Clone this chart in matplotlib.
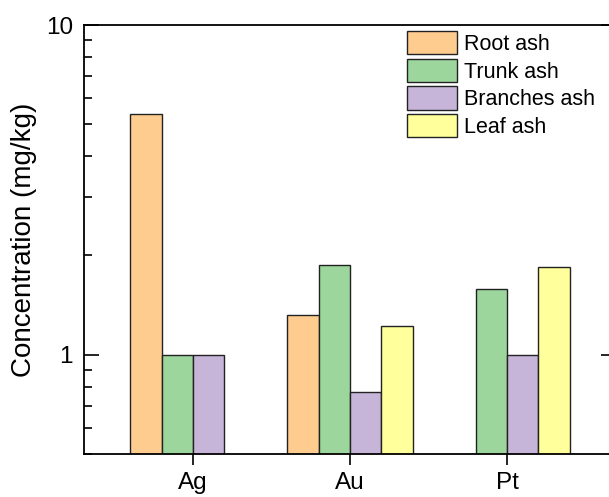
import numpy as np
import matplotlib.pyplot as plt
from matplotlib.ticker import LogLocator, NullFormatter, FixedFormatter, FixedLocator

plt.rcParams['font.family'] = ['Liberation Sans', 'DejaVu Sans']

elements = ['Ag', 'Au', 'Pt']
root_ash = [5.37, 1.32, np.nan]
trunk_ash = [1.0, 1.87, 1.585]
branches_ash = [1.0, 0.77, 1.0]
leaf_ash = [np.nan, 1.22, 1.85]

series = [
    ('Root ash', root_ash, '#FFCC90'),
    ('Trunk ash', trunk_ash, '#9DD69C'),
    ('Branches ash', branches_ash, '#C6B5D8'),
    ('Leaf ash', leaf_ash, '#FFFF9C'),
]

fig = plt.figure(figsize=(6.09, 4.97), dpi=100)
ax = fig.add_axes([84 / 609, 43 / 497, 532 / 609, 429 / 497])

x = np.arange(len(elements))
w = 0.2
offsets = [-1.5, -0.5, 0.5, 1.5]
for (name, vals, color), off in zip(series, offsets):
    ax.bar(x + off * w, vals, w, color=color, edgecolor='#222222',
           linewidth=1.0, label=name, bottom=0)

ax.set_yscale('log')
ax.set_ylim(0.5, 10)
ax.set_xlim(-0.694, 2.694)
ax.yaxis.set_major_locator(FixedLocator([1, 10]))
ax.yaxis.set_major_formatter(FixedFormatter(['1', '10']))
ax.yaxis.set_minor_locator(LogLocator(base=10, subs=np.arange(2, 10)))
ax.yaxis.set_minor_formatter(NullFormatter())

ax.set_xticks(x)
ax.set_xticklabels(elements)
ax.tick_params(axis='x', direction='out', length=8, width=1.2, labelsize=17.5, pad=5)
ax.tick_params(axis='y', which='major', direction='in', length=11, width=1.2,
               labelsize=17.5, right=True, pad=8)
ax.tick_params(axis='y', which='minor', direction='in', length=6, width=1.2, right=False)

for sp in ax.spines.values():
    sp.set_linewidth(1.3)

ax.set_ylabel('Concentration (mg/kg)', fontsize=20, labelpad=6)

ax.legend(loc='upper left', bbox_to_anchor=(407 / 609, 1 - 31 / 497),
          bbox_transform=fig.transFigure, frameon=False, fontsize=15.5,
          handlelength=2.3, handleheight=1.3, handletextpad=0.35,
          labelspacing=0.17, borderpad=0, borderaxespad=0)

fig.savefig('out.png', dpi=100)
